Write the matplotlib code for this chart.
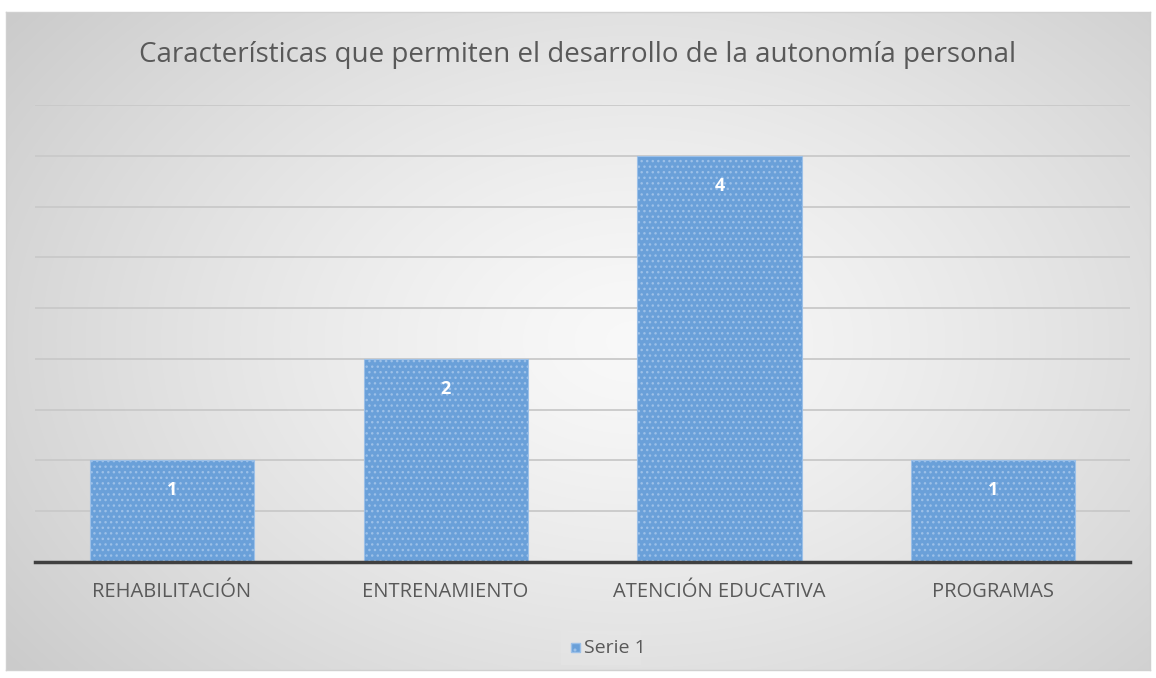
import numpy as np
import matplotlib
matplotlib.use("Agg")
import matplotlib.pyplot as plt
from matplotlib.patches import Rectangle

categories = ["REHABILITACIÓN", "ENTRENAMIENTO", "ATENCIÓN EDUCATIVA", "PROGRAMAS"]
values = [1, 2, 4, 1]
series_name = "Serie 1"
title = "Características que permiten el desarrollo de la autonomía personal"

W, H = 1156, 678
fig = plt.figure(figsize=(W / 100, H / 100), dpi=100)
fig.patch.set_facecolor("white")

# background gradient panel
x0, y0, x1, y1 = 6, 12, 1150, 670
bg = fig.add_axes([x0 / W, 1 - y1 / H, (x1 - x0) / W, (y1 - y0) / H])
yy, xx = np.mgrid[0:1:300j, 0:1:600j]
r = np.sqrt(((xx - 0.55) / 0.75) ** 2 + ((yy - 0.5) / 0.9) ** 2)
g = np.clip(0.975 - 0.2 * r ** 1.3, 0.78, 0.98)
bg.imshow(np.dstack([g, g, g]), aspect="auto", extent=[0, 1, 0, 1], interpolation="bilinear")
bg.set_xticks([]); bg.set_yticks([])
for s in bg.spines.values():
    s.set_color("#d0d0d0"); s.set_linewidth(1)

ax = fig.add_axes([35 / W, 1 - 562 / H, (1130 - 35) / W, (562 - 105) / H])
ax.patch.set_alpha(0)
x = np.arange(len(categories))
bars = ax.bar(x, values, width=0.6, color="#6aa0d9", edgecolor="#9cc0e8",
              linewidth=0.8, hatch="...", zorder=3)
ax.set_xlim(-0.5, len(categories) - 0.5)
ax.set_ylim(0, 4.5)
ax.set_yticks(np.arange(0.5, 4.51, 0.5))
ax.yaxis.grid(True, color="#c9c9c9", linewidth=1.3, zorder=0)
ax.tick_params(axis="y", left=False, labelleft=False)
ax.tick_params(axis="x", bottom=False, pad=11)
ax.set_xticks(x)
ax.set_xticklabels(categories, fontsize=14.5, color="#595959", family="Open Sans")
for s in ["top", "right", "left"]:
    ax.spines[s].set_visible(False)
ax.spines["bottom"].set_color("#404040")
ax.spines["bottom"].set_linewidth(2.5)
ax.spines["bottom"].set_zorder(5)

for xi, v in zip(x, values):
    ax.annotate(str(v), (xi, v), xytext=(0, -21.5), textcoords="offset points",
                ha="center", va="center", color="white", fontsize=13,
                fontweight="bold", family="Open Sans", zorder=6)

fig.text(0.5, 1 - 55 / H, title, ha="center", va="center", fontsize=20,
         color="#595959", family="Open Sans")

# legend
leg_ax = fig.add_axes([0, 0, 1, 1])
leg_ax.set_xlim(0, W); leg_ax.set_ylim(H, 0); leg_ax.axis("off")
leg_ax.add_patch(Rectangle((561, 631), 80, 34, facecolor="#e6e6e6", edgecolor="none", alpha=0.6))
leg_ax.add_patch(Rectangle((571, 643), 9, 9, facecolor="#6aa0d9", edgecolor="#9cc0e8", hatch=".."))
leg_ax.text(584, 648, series_name, ha="left", va="center", fontsize=14,
            color="#595959", family="Open Sans")

fig.savefig("out.png", dpi=100)
